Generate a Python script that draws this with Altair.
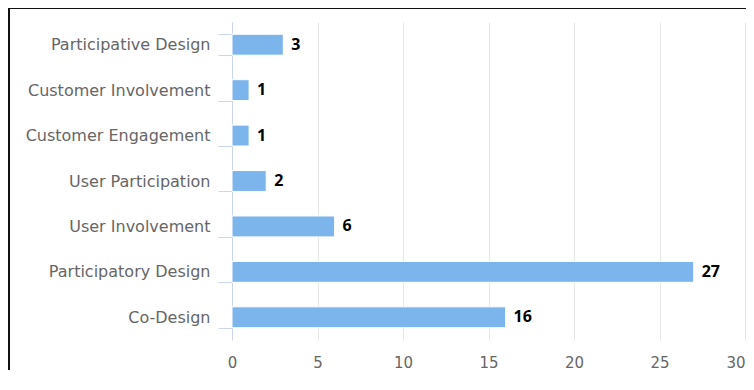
import altair as alt
import pandas as pd

categories = ["Participative Design", "Customer Involvement", "Customer Engagement",
              "User Participation", "User Involvement", "Participatory Design", "Co-Design"]
counts = [3, 1, 1, 2, 6, 27, 16]
x_ticks = [0, 5, 10, 15, 20, 25, 30]

df = pd.DataFrame({"term": categories, "count": counts})

FONT = "DejaVu Sans"

base = alt.Chart(df)

y_enc = alt.Y("term:N", sort=categories, title=None,
              scale=alt.Scale(paddingInner=0.54, paddingOuter=0.27),
              axis=alt.Axis(tickBand="extent", tickSize=14, tickColor="#ccd6eb",
                            domainColor="#ccd6eb", labelPadding=8, labelFontSize=16,
                            labelLimit=300,
                            labelColor="#666666", labelFont=FONT, grid=False))
x_enc = alt.X("count:Q", title=None,
              scale=alt.Scale(domain=[0, 30], nice=False),
              axis=alt.Axis(values=x_ticks, grid=True, gridColor="#e6e6e6", domain=False,
                            ticks=False, labelFontSize=15, labelColor="#666666",
                            labelFont=FONT, labelPadding=15, labelFlush=False,
                            labelAlign={"condition": {"test": "datum.value == 30",
                                                      "value": "right"},
                                        "value": "center"}))

bars = base.mark_bar(color="#7cb5ec", stroke="white", strokeWidth=1).encode(
    x=x_enc, y=y_enc)

labels = base.mark_text(align="left", baseline="middle", dx=8, fontSize=16,
                        fontWeight="bold", color="#000000", font="Open Sans").encode(
    x="count:Q", y=alt.Y("term:N", sort=categories), text="count:Q")

top_border = base.mark_rule(color="#111111", strokeWidth=2).encode(
    x=alt.value(-224), x2=alt.value(530), y=alt.value(-14))
left_border = base.mark_rule(color="#111111", strokeWidth=2).encode(
    x=alt.value(-223), y=alt.value(-15), y2=alt.value(370))

chart = alt.layer(bars, labels, top_border, left_border).properties(
    width=513, height=318,
    autosize=alt.AutoSizeParams(type="none"),
    padding={"left": 224, "top": 14, "right": 1, "bottom": 30},
).configure_view(stroke=None)

chart.save("out.html", embed_options={"renderer": "svg", "actions": False})
